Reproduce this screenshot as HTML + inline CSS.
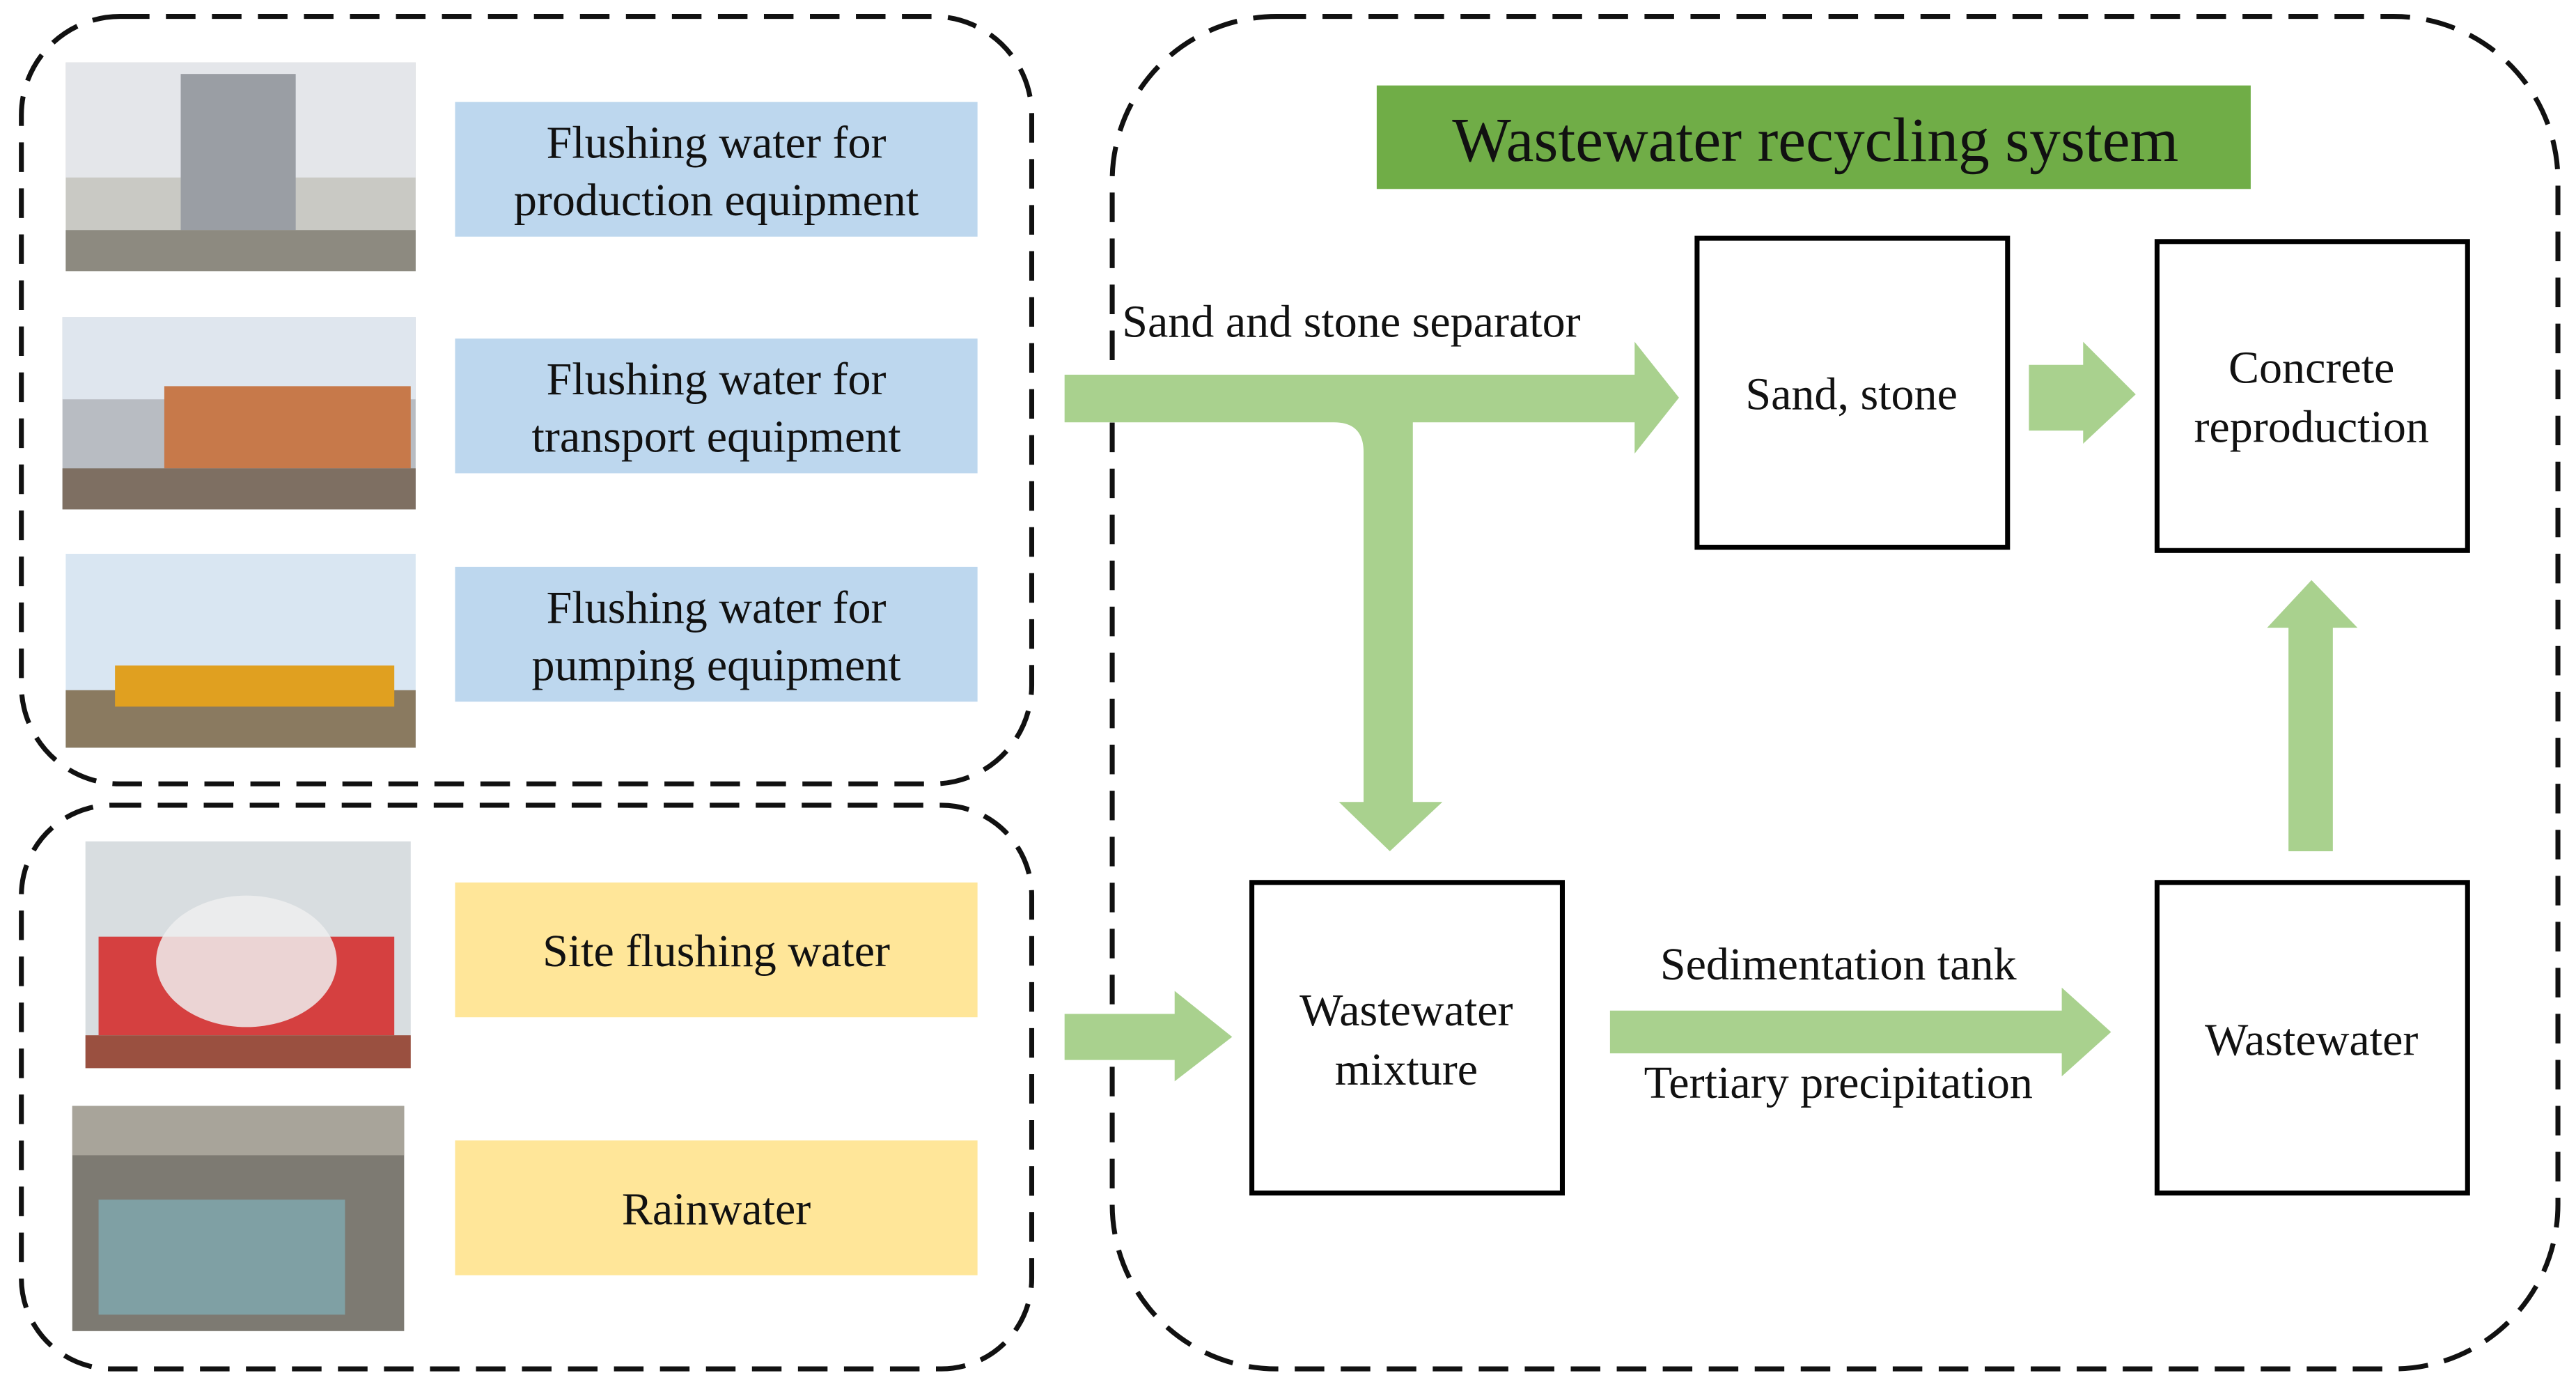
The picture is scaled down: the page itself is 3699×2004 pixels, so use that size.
<!DOCTYPE html>
<html><head><meta charset="utf-8"><style>html,body{margin:0;padding:0;background:#fff}svg{display:block}text{font-family:"Liberation Serif","DejaVu Serif",serif}</style></head><body>
<svg width="3699" height="2004" viewBox="0 0 1568 849.5" xmlns="http://www.w3.org/2000/svg">
<g fill="none" stroke="#111" stroke-width="3" stroke-dasharray="18 10">
<rect x="13" y="10" width="615" height="467" rx="60"/>
<rect x="13" y="490" width="615" height="343" rx="55"/>
<rect x="677" y="10" width="880" height="823" rx="100"/>
</g>
<!-- photos -->
<rect x="40" y="38" width="213" height="127" fill="#c9c9c4"/><rect x="40" y="38" width="213" height="70" fill="#e4e6ea"/><rect x="110" y="45" width="70" height="95" fill="#9a9ea4"/><rect x="40" y="140" width="213" height="25" fill="#8d8a80"/>
<rect x="38" y="193" width="215" height="117" fill="#b8bcc2"/><rect x="38" y="193" width="215" height="50" fill="#dfe6ee"/><rect x="100" y="235" width="150" height="50" fill="#c7794a"/><rect x="38" y="285" width="215" height="25" fill="#7e6f62"/>
<rect x="40" y="337" width="213" height="118" fill="#d9e6f2"/><rect x="40" y="420" width="213" height="35" fill="#8a7a60"/><rect x="70" y="405" width="170" height="25" fill="#e0a020"/>
<rect x="52" y="512" width="198" height="138" fill="#d8dde0"/><rect x="60" y="570" width="180" height="60" fill="#d54040"/><ellipse cx="150" cy="585" rx="55" ry="40" fill="#eeeeee" opacity="0.85"/><rect x="52" y="630" width="198" height="20" fill="#9a5040"/>
<rect x="44" y="673" width="202" height="137" fill="#7d7a72"/><rect x="60" y="730" width="150" height="70" fill="#7fa0a4"/><rect x="44" y="673" width="202" height="30" fill="#a8a49a"/>
<!-- label boxes -->
<g fill="#bdd7ee"><rect x="277" y="62" width="318" height="82"/><rect x="277" y="206" width="318" height="82"/><rect x="277" y="345" width="318" height="82"/></g>
<g fill="#ffe699"><rect x="277" y="537" width="318" height="82"/><rect x="277" y="694" width="318" height="82"/></g>
<g font-size="28" text-anchor="middle" fill="#111">
<text x="436" y="96">Flushing water for</text><text x="436" y="131">production equipment</text>
<text x="436" y="240">Flushing water for</text><text x="436" y="275">transport equipment</text>
<text x="436" y="379">Flushing water for</text><text x="436" y="414">pumping equipment</text>
<text x="436" y="588">Site flushing water</text>
<text x="436" y="745">Rainwater</text>
</g>
<rect x="838" y="52" width="532" height="63" fill="#70ad47"/>
<text x="1105" y="98" font-size="38" text-anchor="middle" fill="#111">Wastewater recycling system</text>
<!-- arrows -->
<g fill="#a9d18e">
<path d="M648 228 H995 V208 L1022 242 L995 276 V257 H860 V488 H878 L846 518 L815 488 H830 V275 Q830 257 812 257 H648 Z"/>
<path d="M1235 222 H1268 V208 L1300 240 L1268 270 V262 H1235 Z"/>
<path d="M1393 518 V382 H1380 L1407 353 L1435 382 H1420 V518 Z"/>
<path d="M648 617 H715 V603 L750 631 L715 658 V645 H648 Z"/>
<path d="M980 615 H1255 V601 L1285 628 L1255 655 V641 H980 Z"/>
</g>
<g fill="#fff" stroke="#000" stroke-width="3">
<rect x="1033" y="145" width="189" height="188"/>
<rect x="1313" y="147" width="189" height="188"/>
<rect x="762" y="537" width="189" height="189"/>
<rect x="1313" y="537" width="189" height="189"/>
</g>
<g font-size="28" fill="#111" text-anchor="middle">
<text x="1127" y="249">Sand, stone</text>
<text x="1407" y="233">Concrete</text><text x="1407" y="269">reproduction</text>
<text x="856" y="624">Wastewater</text><text x="856" y="660">mixture</text>
<text x="1407" y="642">Wastewater</text>
<text x="1119" y="596">Sedimentation tank</text>
<text x="1119" y="668">Tertiary precipitation</text>
</g>
<text x="683" y="205" font-size="28" fill="#111">Sand and stone separator</text>
</svg>
</body></html>
